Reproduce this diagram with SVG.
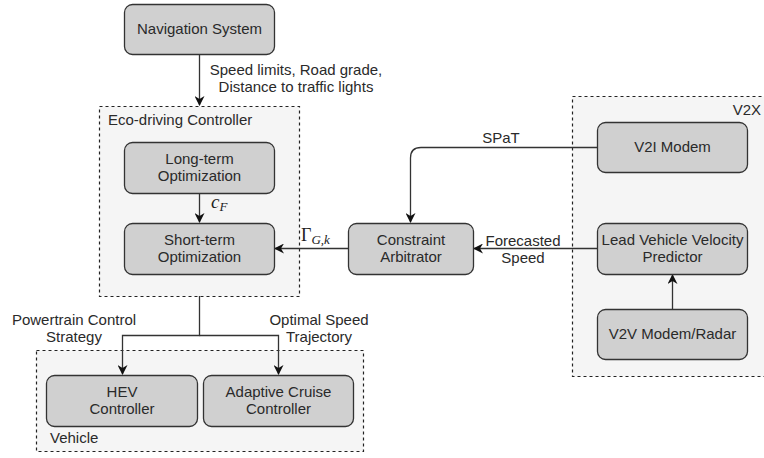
<svg xmlns="http://www.w3.org/2000/svg" width="764" height="458" viewBox="0 0 764 458">
<defs>
<style>
.grp{fill:#f5f5f5;stroke:#222;stroke-width:1.2;stroke-dasharray:3 3}
.box{fill:#d0d0d0;stroke:#333;stroke-width:1.3}
.t{font-family:"Liberation Sans",Arial,sans-serif;font-size:15px;fill:#2a2a2a;text-anchor:middle}
.l{text-anchor:start}
.e{fill:none;stroke:#333;stroke-width:1.3}
.m{font-family:"Liberation Serif","Times New Roman",serif;fill:#222}
</style>
<marker id="ah" viewBox="0 0 10 10" refX="9" refY="5" markerWidth="10" markerHeight="10" markerUnits="userSpaceOnUse" orient="auto">
<path d="M0,0 L10,5 L0,10 L3,5 Z" fill="#111"/>
</marker>
</defs>
<rect width="764" height="458" fill="#fff"/>
<g id="eco-group">
<rect class="grp" x="99.5" y="106.5" width="200" height="190"/>
<text class="t l" x="108" y="125">Eco-driving Controller</text>
</g>
<g id="v2x-group">
<rect class="grp" x="572.5" y="96.5" width="200" height="280"/>
<text class="t" x="761" y="115" style="text-anchor:end">V2X</text>
</g>
<g id="vehicle-group">
<rect class="grp" x="36.5" y="350.5" width="327" height="101"/>
<text class="t l" x="50" y="443">Vehicle</text>
</g>
<g id="connectors">
<path class="e" d="M199.5,54 V105" marker-end="url(#ah)"/>
<path class="e" d="M199.5,193 V222" marker-end="url(#ah)"/>
<path class="e" d="M348,248.5 H275" marker-end="url(#ah)"/>
<path class="e" d="M597,147.5 H421 Q410.5,147.5 410.5,158 V222" marker-end="url(#ah)"/>
<path class="e" d="M597,248.5 H474" marker-end="url(#ah)"/>
<path class="e" d="M672.5,309 V275" marker-end="url(#ah)"/>
<path class="e" d="M199.5,296 V335.5 H122.5 V374" marker-end="url(#ah)"/>
<path class="e" d="M199.5,335.5 H278.5 V374" marker-end="url(#ah)"/>
<text class="t" x="296" y="75">Speed limits, Road grade,</text>
<text class="t" x="296" y="92">Distance to traffic lights</text>
<text class="m" x="211" y="208" font-size="19" font-style="italic">c<tspan font-size="13" dy="3">F</tspan></text>
<text class="m" x="301" y="241" font-size="18">Γ<tspan font-size="13" font-style="italic" dy="3">G,k</tspan></text>
<text class="t" x="501" y="143">SPaT</text>
<text class="t" x="523" y="246">Forecasted</text>
<text class="t" x="523" y="263">Speed</text>
<text class="t" x="74" y="325">Powertrain Control</text>
<text class="t" x="74" y="342">Strategy</text>
<text class="t" x="319" y="325">Optimal Speed</text>
<text class="t" x="319" y="342">Trajectory</text>
</g>
<g id="nav">
<rect class="box" x="124.5" y="4.5" width="150" height="50" rx="8"/>
<text class="t" x="199.5" y="34">Navigation System</text>
</g>
<g id="long-term">
<rect class="box" x="124.5" y="142.5" width="150" height="51" rx="8"/>
<text class="t" x="199.5" y="164">Long-term</text>
<text class="t" x="199.5" y="181">Optimization</text>
</g>
<g id="short-term">
<rect class="box" x="124.5" y="223.5" width="150" height="51" rx="8"/>
<text class="t" x="199.5" y="245">Short-term</text>
<text class="t" x="199.5" y="262">Optimization</text>
</g>
<g id="arbitrator">
<rect class="box" x="348.5" y="223.5" width="125" height="51" rx="8"/>
<text class="t" x="411" y="245">Constraint</text>
<text class="t" x="411" y="262">Arbitrator</text>
</g>
<g id="v2i">
<rect class="box" x="597.5" y="122.5" width="150" height="50" rx="8"/>
<text class="t" x="672.5" y="152">V2I Modem</text>
</g>
<g id="predictor">
<rect class="box" x="597.5" y="223.5" width="150" height="51" rx="8"/>
<text class="t" x="672.5" y="245">Lead Vehicle Velocity</text>
<text class="t" x="672.5" y="262">Predictor</text>
</g>
<g id="v2v">
<rect class="box" x="597.5" y="309.5" width="150" height="50" rx="8"/>
<text class="t" x="672.5" y="339">V2V Modem/Radar</text>
</g>
<g id="hev">
<rect class="box" x="46.5" y="375.5" width="151" height="51" rx="8"/>
<text class="t" x="122" y="397">HEV</text>
<text class="t" x="122" y="414">Controller</text>
</g>
<g id="acc">
<rect class="box" x="203.5" y="375.5" width="150" height="51" rx="8"/>
<text class="t" x="278.5" y="397">Adaptive Cruise</text>
<text class="t" x="278.5" y="414">Controller</text>
</g>
</svg>
